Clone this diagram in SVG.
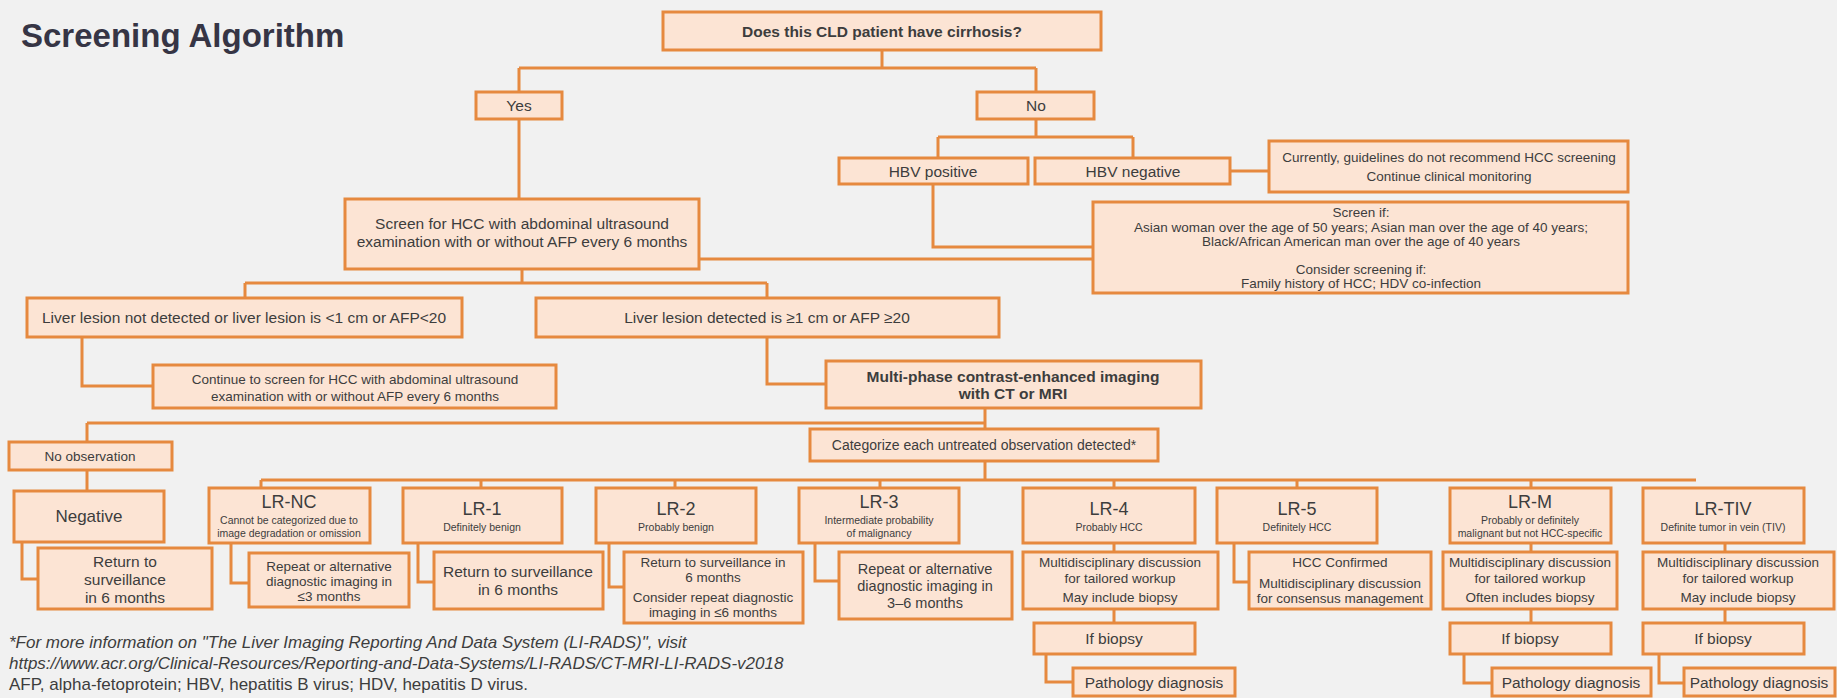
<svg xmlns="http://www.w3.org/2000/svg" width="1837" height="698" viewBox="0 0 1837 698">
<style>
.box{fill:#fce4d4;stroke:#e6893f;stroke-width:3}
.ln{fill:none;stroke:#e6893f;stroke-width:3}
text{font-family:"Liberation Sans",Arial,sans-serif;fill:#3d3d3d;text-anchor:middle}
.b{font-weight:bold}
.t15{font-size:15.5px}
.t13{font-size:13.5px}
.lr{font-size:18px}
.sub{font-size:10.5px}
.fn{font-size:17px;text-anchor:start}
.it{font-style:italic}
</style>
<rect width="1837" height="698" fill="#f1f1f1"/>
<text x="21" y="47" class="b" style="font-size:33px;text-anchor:start;fill:#363545">Screening Algorithm</text>

<g id="connectors" class="ln">
<path d="M882,50V68M519,68H1036M519,68V92M1036,68V92"/>
<path d="M519,119V199"/>
<path d="M1036,119V137M938,137H1133M938,137V158M1133,137V158"/>
<path d="M1230,171H1269"/>
<path d="M933,184V247H1093"/>
<path d="M699,259H1093"/>
<path d="M522,269V283M245,283H767M245,283V298M767,283V298"/>
<path d="M82,337V386H153"/>
<path d="M767,337V384H826"/>
<path d="M985,408V429M87,423H985M87,423V442"/>
<path d="M87,470V491"/>
<path d="M985,461V480M261,480H1696"/>
<path d="M261,480V488M481,480V488M675,480V488M880,480V488M1114,480V488M1297,480V488M1531,480V488"/>
<path d="M22,542V579H38"/>
<path d="M231,543V583H249"/>
<path d="M418,543V582H434"/>
<path d="M609,543V587H624"/>
<path d="M815,543V581H839"/>
<path d="M1114,543V552M1114,609V623M1046,654V682H1073"/>
<path d="M1234,543V582H1249"/>
<path d="M1531,543V552M1531,609V623M1464,654V683H1492"/>
<path d="M1725,543V552M1725,609V623M1659,654V683H1684"/>
</g>

<g id="n-top"><rect class="box" x="663" y="12" width="438" height="38"/><text x="882" y="37" class="b t15">Does this CLD patient have cirrhosis?</text></g>
<g id="n-yes"><rect class="box" x="476" y="92" width="86" height="27"/><text x="519" y="111" class="t15">Yes</text></g>
<g id="n-no"><rect class="box" x="977" y="92" width="117" height="27"/><text x="1036" y="111" class="t15">No</text></g>
<g id="n-hbvpos"><rect class="box" x="839" y="158" width="189" height="26"/><text x="933" y="177" class="t15">HBV positive</text></g>
<g id="n-hbvneg"><rect class="box" x="1035" y="158" width="195" height="26"/><text x="1133" y="177" class="t15">HBV negative</text></g>
<g id="n-currently"><rect class="box" x="1269" y="141" width="359" height="51"/><text x="1449" y="162" class="t13">Currently, guidelines do not recommend HCC screening</text><text x="1449" y="181" class="t13">Continue clinical monitoring</text></g>
<g id="n-screenif"><rect class="box" x="1093" y="202" width="535" height="91"/>
<text x="1361" y="217" class="t13">Screen if:</text>
<text x="1361" y="232" class="t13">Asian woman over the age of 50 years; Asian man over the age of 40 years;</text>
<text x="1361" y="246" class="t13">Black/African American man over the age of 40 years</text>
<text x="1361" y="274" class="t13">Consider screening if:</text>
<text x="1361" y="288" class="t13">Family history of HCC; HDV co-infection</text></g>
<g id="n-screenhcc"><rect class="box" x="345" y="199" width="354" height="70"/><text x="522" y="229" class="t15">Screen for HCC with abdominal ultrasound</text><text x="522" y="247" class="t15">examination with or without AFP every 6 months</text></g>
<g id="n-livernot"><rect class="box" x="27" y="298" width="435" height="39"/><text x="244" y="323" class="t15">Liver lesion not detected or liver lesion is &lt;1 cm or AFP&lt;20</text></g>
<g id="n-liverdet"><rect class="box" x="536" y="298" width="463" height="39"/><text x="767" y="323" class="t15">Liver lesion detected is ≥1 cm or AFP ≥20</text></g>
<g id="n-continue"><rect class="box" x="153" y="365" width="403" height="43"/><text x="355" y="384" class="t13">Continue to screen for HCC with abdominal ultrasound</text><text x="355" y="401" class="t13">examination with or without AFP every 6 months</text></g>
<g id="n-multiphase"><rect class="box" x="826" y="361" width="375" height="47"/><text x="1013" y="382" class="b t15">Multi-phase contrast-enhanced imaging</text><text x="1013" y="399" class="b t15">with CT or MRI</text></g>
<g id="n-categorize"><rect class="box" x="810" y="429" width="348" height="32"/><text x="984" y="450" style="font-size:14px">Categorize each untreated observation detected*</text></g>
<g id="n-noobs"><rect class="box" x="9" y="442" width="163" height="28"/><text x="90" y="461" class="t13">No observation</text></g>
<g id="n-negative"><rect class="box" x="14" y="491" width="150" height="51"/><text x="89" y="522" style="font-size:17px">Negative</text></g>
<g id="n-negchild"><rect class="box" x="38" y="548" width="174" height="61"/><text x="125" y="567" class="t15">Return to</text><text x="125" y="585" class="t15">surveillance</text><text x="125" y="603" class="t15">in 6 months</text></g>

<g id="n-lrnc"><rect class="box" x="209" y="488" width="161" height="55"/><text x="289" y="508" class="lr">LR-NC</text><text x="289" y="524" class="sub">Cannot be categorized due to</text><text x="289" y="537" class="sub">image degradation or omission</text></g>
<g id="n-lrnc-act"><rect class="box" x="249" y="553" width="160" height="54"/><text x="329" y="571" class="t13">Repeat or alternative</text><text x="329" y="586" class="t13">diagnostic imaging in</text><text x="329" y="601" class="t13">≤3 months</text></g>

<g id="n-lr1"><rect class="box" x="403" y="488" width="159" height="55"/><text x="482" y="515" class="lr">LR-1</text><text x="482" y="531" class="sub">Definitely benign</text></g>
<g id="n-lr1-act"><rect class="box" x="434" y="552" width="169" height="57"/><text x="518" y="577" class="t15">Return to surveillance</text><text x="518" y="595" class="t15">in 6 months</text></g>

<g id="n-lr2"><rect class="box" x="596" y="488" width="160" height="55"/><text x="676" y="515" class="lr">LR-2</text><text x="676" y="531" class="sub">Probably benign</text></g>
<g id="n-lr2-act"><rect class="box" x="624" y="552" width="179" height="71"/><text x="713" y="567" class="t13">Return to surveillance in</text><text x="713" y="582" class="t13">6 months</text><text x="713" y="602" class="t13">Consider repeat diagnostic</text><text x="713" y="617" class="t13">imaging in ≤6 months</text></g>

<g id="n-lr3"><rect class="box" x="799" y="488" width="160" height="55"/><text x="879" y="508" class="lr">LR-3</text><text x="879" y="524" class="sub">Intermediate probability</text><text x="879" y="537" class="sub">of malignancy</text></g>
<g id="n-lr3-act"><rect class="box" x="839" y="552" width="173" height="67"/><text x="925" y="574" style="font-size:14.5px">Repeat or alternative</text><text x="925" y="591" style="font-size:14.5px">diagnostic imaging in</text><text x="925" y="608" style="font-size:14.5px">3–6 months</text></g>

<g id="n-lr4"><rect class="box" x="1023" y="488" width="172" height="55"/><text x="1109" y="515" class="lr">LR-4</text><text x="1109" y="531" class="sub">Probably HCC</text></g>
<g id="n-lr4-act"><rect class="box" x="1023" y="552" width="195" height="57"/><text x="1120" y="567" class="t13">Multidisciplinary discussion</text><text x="1120" y="583" class="t13">for tailored workup</text><text x="1120" y="602" class="t13">May include biopsy</text></g>
<g id="n-lr4-bio"><rect class="box" x="1034" y="623" width="161" height="31"/><text x="1114" y="644" class="t15">If biopsy</text></g>
<g id="n-lr4-path"><rect class="box" x="1073" y="668" width="162" height="28"/><text x="1154" y="688" class="t15">Pathology diagnosis</text></g>

<g id="n-lr5"><rect class="box" x="1217" y="488" width="160" height="55"/><text x="1297" y="515" class="lr">LR-5</text><text x="1297" y="531" class="sub">Definitely HCC</text></g>
<g id="n-lr5-act"><rect class="box" x="1249" y="552" width="182" height="57"/><text x="1340" y="567" class="t13">HCC Confirmed</text><text x="1340" y="588" class="t13">Multidisciplinary discussion</text><text x="1340" y="603" class="t13">for consensus management</text></g>

<g id="n-lrm"><rect class="box" x="1450" y="488" width="161" height="55"/><text x="1530" y="508" class="lr">LR-M</text><text x="1530" y="524" class="sub">Probably or definitely</text><text x="1530" y="537" class="sub">malignant but not HCC-specific</text></g>
<g id="n-lrm-act"><rect class="box" x="1443" y="552" width="174" height="57"/><text x="1530" y="567" class="t13">Multidisciplinary discussion</text><text x="1530" y="583" class="t13">for tailored workup</text><text x="1530" y="602" class="t13">Often includes biopsy</text></g>
<g id="n-lrm-bio"><rect class="box" x="1450" y="623" width="161" height="31"/><text x="1530" y="644" class="t15">If biopsy</text></g>
<g id="n-lrm-path"><rect class="box" x="1492" y="668" width="159" height="28"/><text x="1571" y="688" class="t15">Pathology diagnosis</text></g>

<g id="n-lrtiv"><rect class="box" x="1643" y="488" width="161" height="55"/><text x="1723" y="515" class="lr">LR-TIV</text><text x="1723" y="531" class="sub">Definite tumor in vein (TIV)</text></g>
<g id="n-lrtiv-act"><rect class="box" x="1643" y="552" width="191" height="57"/><text x="1738" y="567" class="t13">Multidisciplinary discussion</text><text x="1738" y="583" class="t13">for tailored workup</text><text x="1738" y="602" class="t13">May include biopsy</text></g>
<g id="n-lrtiv-bio"><rect class="box" x="1643" y="623" width="161" height="31"/><text x="1723" y="644" class="t15">If biopsy</text></g>
<g id="n-lrtiv-path"><rect class="box" x="1684" y="668" width="151" height="28"/><text x="1759" y="688" class="t15">Pathology diagnosis</text></g>

<g id="footnote">
<text x="9" y="648" class="fn it">*For more information on "The Liver Imaging Reporting And Data System (LI-RADS)", visit</text>
<text x="9" y="669" class="fn it">https://www.acr.org/Clinical-Resources/Reporting-and-Data-Systems/LI-RADS/CT-MRI-LI-RADS-v2018</text>
<text x="9" y="690" class="fn">AFP, alpha-fetoprotein; HBV, hepatitis B virus; HDV, hepatitis D virus.</text>
</g>
</svg>
